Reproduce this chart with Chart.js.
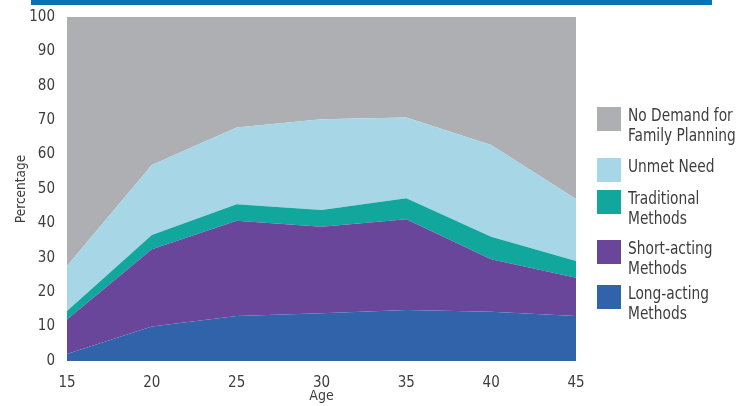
<!DOCTYPE html>
<html>
<head>
<meta charset="utf-8">
<script src="https://cdn.jsdelivr.net/npm/chart.js@4.4.0/dist/chart.umd.min.js"></script>
<style>
  html, body { margin: 0; padding: 0; background: #fff; }
  #wrap { width: 756px; height: 406px; position: relative; }
</style>
</head>
<body>
<div id="wrap"><canvas id="c" width="756" height="406"></canvas></div>
<script>
const ages = ['15', '20', '25', '30', '35', '40', '45'];
const longActing  = [2.0, 10.0, 13.1, 13.9, 14.8, 14.3, 13.1];
const shortActing = [10.1, 22.5, 27.7, 25.1, 26.4, 15.3, 11.1];
const traditional = [2.4, 4.1, 4.8, 4.9, 6.1, 6.5, 4.9];
const unmetNeed   = [13.1, 20.4, 22.3, 26.4, 23.5, 26.7, 18.0];
const noDemand    = [72.4, 43.0, 32.1, 29.7, 29.2, 37.2, 52.9];
const yTicks = [0, 10, 20, 30, 40, 50, 60, 70, 80, 90, 100];

const FONT = "'Liberation Sans Narrow', 'DejaVu Sans Condensed', sans-serif";
const TXT = '#3d3d3d';

const legendItems = [
  { lines: ['No Demand for', 'Family Planning'], color: '#aeafb3' },
  { lines: ['Unmet Need'], color: '#a7d7e7' },
  { lines: ['Traditional', 'Methods'], color: '#12a79c' },
  { lines: ['Short-acting', 'Methods'], color: '#6a469a' },
  { lines: ['Long-acting', 'Methods'], color: '#3163ab' }
];
const legendTops = [116, 167, 199, 249, 294];

const decor = {
  id: 'decor',
  afterDraw(chart) {
    const ctx = chart.ctx;
    ctx.save();
    ctx.fillStyle = '#0a72b4';
    ctx.fillRect(31, 0, 681, 5);
    ctx.font = '18px ' + FONT;
    ctx.textBaseline = 'middle';
    ctx.textAlign = 'left';
    legendItems.forEach((it, i) => {
      const cy = legendTops[i];
      ctx.fillStyle = it.color;
      ctx.fillRect(597, cy - 9, 24, 24);
      ctx.fillStyle = TXT;
      it.lines.forEach((l, j) => {
        ctx.save();
        ctx.translate(628, cy + j * 20.5);
        ctx.scale(0.85, 1);
        ctx.fillText(l, 0, 0);
        ctx.restore();
      });
    });
    ctx.restore();
  }
};

function ds(label, data, color, fill) {
  return { label, data, backgroundColor: color, borderColor: color, borderWidth: 0,
    pointRadius: 0, fill, tension: 0 };
}

new Chart(document.getElementById('c'), {
  type: 'line',
  data: {
    labels: ages,
    datasets: [
      ds('Long-acting Methods', longActing, '#3163ab', 'origin'),
      ds('Short-acting Methods', shortActing, '#6a469a', '-1'),
      ds('Traditional Methods', traditional, '#12a79c', '-1'),
      ds('Unmet Need', unmetNeed, '#a7d7e7', '-1'),
      ds('No Demand for Family Planning', noDemand, '#aeafb3', '-1')
    ]
  },
  options: {
    responsive: false,
    animation: false,
    devicePixelRatio: 1,
    layout: { padding: { left: 0, top: 17, right: 180, bottom: 0 } },
    plugins: { legend: { display: false }, tooltip: { enabled: false } },
    scales: {
      x: {
        offset: false,
        grid: { display: false, drawTicks: false },
        border: { display: false },
        ticks: { color: TXT, font: { family: FONT, size: 15 }, padding: 13, maxRotation: 0 },
        title: { display: true, text: 'Age', color: TXT, font: { family: FONT, size: 14 }, padding: { top: 0, bottom: 1 } },
        afterFit(s) { s.height = 45; }
      },
      y: {
        stacked: true,
        min: 0, max: 100,
        afterBuildTicks(s) { s.ticks = yTicks.map(v => ({ value: v })); },
        grid: { display: false, drawTicks: false },
        border: { display: false },
        ticks: { color: TXT, font: { family: FONT, size: 15 }, padding: 12 },
        title: { display: true, text: 'Percentage', color: TXT, font: { family: FONT, size: 13.5 }, padding: { top: 13, bottom: 0 } },
        afterFit(s) { s.width = 67; s.paddingTop = 0; s.paddingBottom = 0; }
      }
    }
  },
  plugins: [decor]
});
</script>
</body>
</html>
